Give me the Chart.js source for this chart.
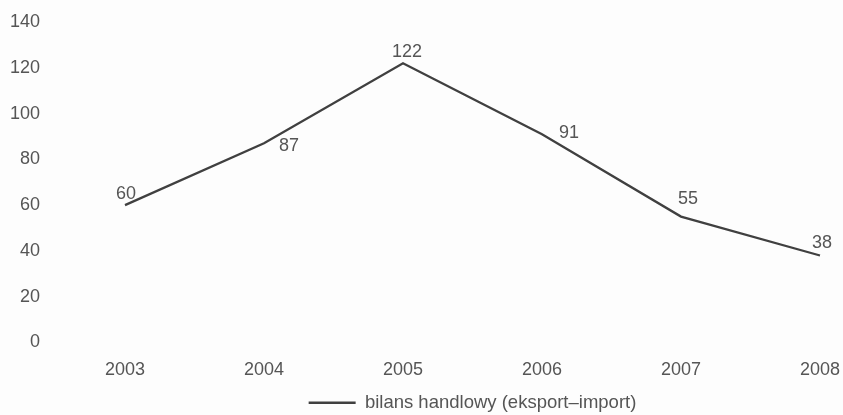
<!DOCTYPE html>
<html>
<head>
<meta charset="utf-8">
<script src="https://cdn.jsdelivr.net/npm/chart.js@4"></script>
<style>
  html, body { margin: 0; padding: 0; background: #fdfdfd; }
  #wrap { width: 843px; height: 415px; }
</style>
</head>
<body>
<div id="wrap"><canvas id="bilansChart"></canvas></div>
<script>
const years = ['2003', '2004', '2005', '2006', '2007', '2008'];
const bilans = [60, 87, 122, 91, 55, 38];
const seriesName = 'bilans handlowy (eksport\u2013import)';

const textColor = '#555';
const lineColor = '#404040';

// where each value label sits relative to its point
const labelOffsets = [[1, -11], [25, 3], [4, -11], [27, -1], [7, -18], [2, -12]];

const valueLabels = {
  id: 'valueLabels',
  afterDatasetsDraw(chart) {
    const ctx = chart.ctx;
    const meta = chart.getDatasetMeta(0);
    ctx.save();
    ctx.font = '18px "Liberation Sans", Arial, sans-serif';
    ctx.fillStyle = textColor;
    ctx.textAlign = 'center';
    ctx.textBaseline = 'middle';
    meta.data.forEach((pt, i) => {
      const off = labelOffsets[i];
      ctx.fillText(String(bilans[i]), pt.x + off[0], pt.y + off[1]);
    });
    ctx.restore();
  }
};

Chart.defaults.font.family = '"Liberation Sans", Arial, sans-serif';
Chart.defaults.font.size = 18;
Chart.defaults.color = textColor;

const ctx = document.getElementById('bilansChart').getContext('2d');
const bilansChart = new Chart(ctx, {
  type: 'line',
  data: {
    labels: years,
    datasets: [{
      label: seriesName,
      data: bilans,
      borderColor: lineColor,
      backgroundColor: lineColor,
      borderWidth: 2.3,
      pointRadius: 0,
      tension: 0
    }]
  },
  options: {
    responsive: true,
    maintainAspectRatio: false,
    animation: false,
    layout: { padding: { top: 22, right: 23, left: 10, bottom: -7 } },
    scales: {
      x: {
        offset: false,
        grid: { display: false, drawTicks: false },
        border: { display: false },
        ticks: { padding: 17, maxRotation: 0 },
        afterFit(scale) {
          scale.height = 49;
          // let the layout padding decide the side margins
          scale.paddingLeft = 0;
          scale.paddingRight = 0;
        }
      },
      y: {
        min: 0,
        max: 140,
        grid: { display: false, drawTicks: false },
        border: { display: false },
        ticks: { stepSize: 20, padding: 85 },
        afterFit(scale) {
          scale.width = 115;
          // tick padding should only push labels sideways
          scale.paddingTop = 10;
          scale.paddingBottom = 10;
        }
      }
    },
    plugins: {
      legend: {
        position: 'bottom',
        fullSize: false,
        labels: {
          usePointStyle: true,
          pointStyle: 'line',
          pointStyleWidth: 47,
          boxWidth: 47,
          padding: 2,
          font: { size: 18.5 },
          color: textColor
        }
      },
      tooltip: { enabled: false }
    }
  },
  plugins: [valueLabels]
});
</script>
</body>
</html>
